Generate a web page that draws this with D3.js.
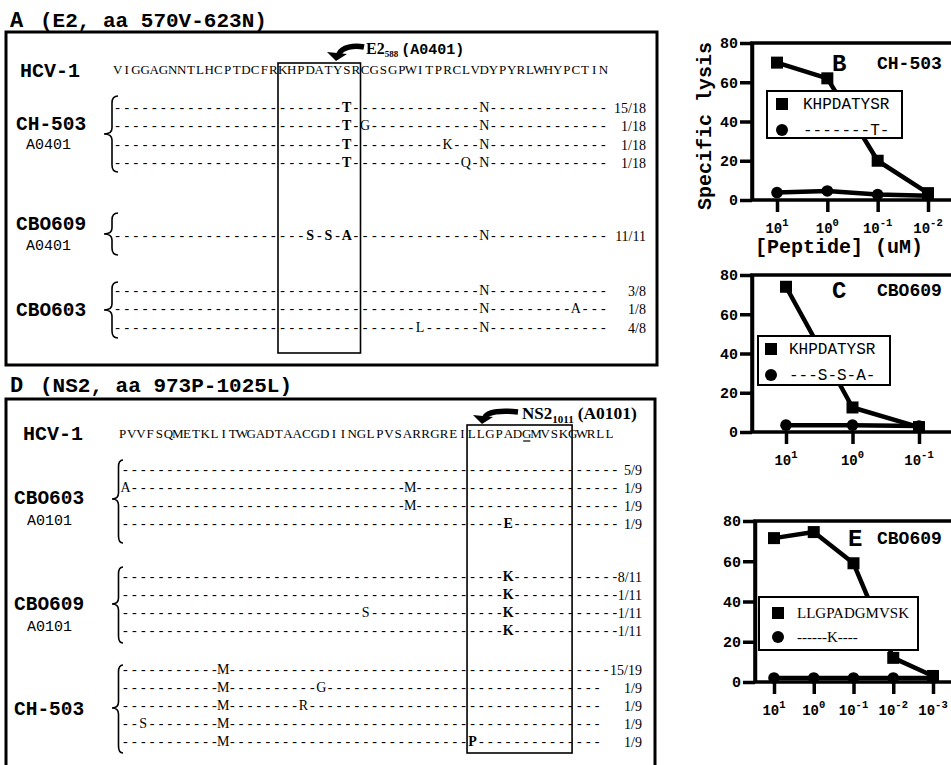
<!DOCTYPE html>
<html><head><meta charset="utf-8">
<script src="https://cdn.jsdelivr.net/npm/d3@7"></script>
<style>body{margin:0;background:#fff}svg{display:block}</style>
</head><body><svg id="c" width="951" height="765"></svg>
<script>
// ---------------- DATA ----------------
const seqA = "VIGGAGNNTLHCPTDCFRKHPDATYSRCGSGPWITPRCLVDYPYRLWHYPCTIN";
const epitopeA = [18, 27];
const groupsA = ["CH-503", "CBO609", "CBO603"];
const hlaA = ["A0401", "A0401", ""];
// each row: group index, substitutions [position, residue], clone fraction
const rowGroupA = [0, 0, 0, 0, 1, 2, 2, 2];
const rowMutA = [
  [[25, "T"], [40, "N"]],
  [[25, "T"], [27, "G"], [40, "N"]],
  [[25, "T"], [36, "K"], [40, "N"]],
  [[25, "T"], [38, "Q"], [40, "N"]],
  [[21, "S"], [23, "S"], [25, "A"], [40, "N"]],
  [[40, "N"]],
  [[40, "N"], [50, "A"]],
  [[33, "L"], [40, "N"]]
];
const rowFracA = ["15/18", "1/18", "1/18", "1/18", "11/11", "3/8", "1/8", "4/8"];

const seqD = "PVVFSQMETKLITWGADTAACGDIINGLPVSARRGREILLGPADGMVSKGWRLL";
const epitopeD = [38, 49];
const groupsD = ["CBO603", "CBO609", "CH-503"];
const hlaD = ["A0101", "A0101", ""];
const rowGroupD = [0, 0, 0, 0, 1, 1, 1, 1, 2, 2, 2, 2, 2];
const rowMutD = [
  [],
  [[0, "A"], [32, "M"]],
  [[32, "M"]],
  [[43, "E"]],
  [[43, "K"]],
  [[43, "K"]],
  [[27, "S"], [43, "K"]],
  [[43, "K"]],
  [[11, "M"]],
  [[11, "M"], [22, "G"]],
  [[11, "M"], [20, "R"]],
  [[2, "S"], [11, "M"]],
  [[11, "M"], [39, "P"]]
];
const rowLenD = [56, 56, 56, 56, 56, 56, 56, 56, 55, 54, 54, 54, 54];
const rowFracD = ["5/9", "1/9", "1/9", "1/9", "8/11", "1/11", "1/11", "1/11", "15/19", "1/9", "1/9", "1/9", "1/9"];

// dose-response panels
const yTicks = [0, 20, 40, 60, 80];
const doseB = [10, 1, 0.1, 0.01];
const lysisB_wt = [70, 62, 20, 3.5];
const lysisB_var = [3.8, 4.6, 2.8, 2.2];
const legendB = ["KHPDATYSR", "-------T-"];
const doseC = [10, 1, 0.1];
const lysisC_wt = [74, 12.5, 2.5];
const lysisC_var = [3.5, 3.5, 3];
const legendC = ["KHPDATYSR", "---S-S-A-"];
const doseE = [10, 1, 0.1, 0.01, 0.001];
const lysisE_wt = [71.5, 74.5, 59, 12, 3];
const lysisE_var = [2, 2, 2, 2, 2];
const legendE = ["LLGPADGMVSK", "------K----"];

// ---------------- LAYOUT ----------------
const MONO = "'Liberation Mono','Courier New',monospace";
const SERIF = "'Liberation Serif','Times New Roman',serif";
const svg = d3.select("#c");

function txt(x, y, s, font, size, weight, anchor) {
  return svg.append("text").attr("x", x).attr("y", y).text(s)
    .attr("font-family", font).attr("font-size", size)
    .attr("font-weight", weight || "normal").attr("text-anchor", anchor || "start");
}
function brace(x0, x1, y0, y1, ym) {
  const xm = (x0 + x1) / 2 + 1;
  const p = `M${x1},${y0} Q${xm},${y0} ${xm},${y0 + 7} L${xm},${ym - 6} Q${xm},${ym} ${x0},${ym} Q${xm},${ym} ${xm},${ym + 6} L${xm},${y1 - 7} Q${xm},${y1} ${x1},${y1}`;
  svg.append("path").attr("d", p).attr("fill", "none").attr("stroke", "#000").attr("stroke-width", 1.6);
}
function arrow(tipX, tipY, tailX, tailY) {
  svg.append("path")
    .attr("d", `M${tailX},${tailY} C${tipX + 18},${tailY - 2} ${tipX + 6},${tailY} ${tipX + 3},${tipY - 7}`)
    .attr("fill", "none").attr("stroke", "#000").attr("stroke-width", 5.5);
  svg.append("path")
    .attr("d", `M${tipX - 9},${tipY - 9} L${tipX + 11},${tipY - 7} L${tipX},${tipY} Z`)
    .attr("fill", "#000");
}

// ----- Panel A -----
txt(10, 27, "A", MONO, 22, "bold");
txt(40, 27, "(E2, aa 570V-623N)", MONO, 21, "bold");
svg.append("rect").attr("x", 6).attr("y", 32).attr("width", 651).attr("height", 333)
  .attr("fill", "none").attr("stroke", "#000").attr("stroke-width", 3);

const xA = d3.scaleLinear().domain([0, seqA.length]).range([113, 608]);
const slotA = d3.scaleLinear().domain([0, 1]).range([108, 126.3]);
const rowSlotA = [0, 1, 2, 3, 7, 10, 11, 12];

svg.append("rect").attr("x", xA(epitopeA[0])).attr("y", 63)
  .attr("width", xA(epitopeA[1]) - xA(epitopeA[0])).attr("height", 290)
  .attr("fill", "none").attr("stroke", "#000").attr("stroke-width", 1.6);

txt(20, 77, "HCV-1", MONO, 20, "bold");
svg.append("g").selectAll("text").data(seqA.split("")).join("text")
  .attr("x", (d, i) => xA(i + 0.5)).attr("y", 74).attr("text-anchor", "middle")
  .attr("font-family", SERIF).attr("font-size", 13).text(d => d);

arrow(336, 61, 364, 47);
const e2 = svg.append("text").attr("x", 366).attr("y", 54).attr("font-weight", "bold");
e2.append("tspan").attr("font-family", SERIF).attr("font-size", 16).text("E2");
e2.append("tspan").attr("font-family", SERIF).attr("font-size", 9).attr("dy", 3).text("588");
e2.append("tspan").attr("font-family", MONO).attr("font-size", 15).attr("dy", -3).attr("dx", 3).text("(A0401)");

function drawRows(rowsMut, rowLen, xs, ys, boxX0, boxX1) {
  rowsMut.forEach((muts, r) => {
    const m = new Map(muts);
    const chars = d3.range(rowLen[r]).map(i => m.get(i) || "-");
    svg.append("g").selectAll("text").data(chars).join("text")
      .attr("x", (d, i) => xs(i + 0.5)).attr("y", ys[r] + 4)
      .attr("text-anchor", "middle").attr("font-family", SERIF)
      .attr("font-size", 14)
      .attr("font-weight", (d, i) => (d !== "-" && xs(i + 0.5) > boxX0 && xs(i + 0.5) < boxX1) ? "bold" : "normal")
      .text(d => d);
  });
}
const rowYA = rowSlotA.map(s => slotA(s));
drawRows(rowMutA, rowMutA.map(() => seqA.length), xA, rowYA, xA(epitopeA[0]), xA(epitopeA[1]));
rowFracA.forEach((f, r) => txt(646, rowYA[r] + 5, f, SERIF, 14, "normal", "end"));

const labA = [[123, 144], [223, 245], [309, null]];
const braceA = [[96, 172, 134], [213, 255, 234], [282, 338, 310]];
groupsA.forEach((g, k) => {
  txt(16, labA[k][0] + 7, g, MONO, 19.5, "bold");
  if (hlaA[k]) txt(26, labA[k][1] + 5, hlaA[k], MONO, 15, "normal");
  brace(104, 118, braceA[k][0], braceA[k][1], braceA[k][2]);
});

// ----- Panel D -----
txt(10, 392, "D", MONO, 22, "bold");
txt(40, 392, "(NS2, aa 973P-1025L)", MONO, 21, "bold");
svg.append("rect").attr("x", 6).attr("y", 399).attr("width", 649).attr("height", 400)
  .attr("fill", "none").attr("stroke", "#000").attr("stroke-width", 3);

const xDs = d3.scaleLinear().domain([0, seqD.length]).range([118, 614]);
const xDr = d3.scaleLinear().domain([0, 56]).range([121, 619.4]);
const slotD = d3.scaleLinear().domain([0, 1]).range([470, 487.9]);
const rowSlotD = [0, 1, 2, 3, 6, 7, 8, 9, 11.2, 12.2, 13.2, 14.2, 15.2];
const rowYD = rowSlotD.map(s => slotD(s));

svg.append("rect").attr("x", xDs(epitopeD[0])).attr("y", 425)
  .attr("width", xDs(epitopeD[1]) - xDs(epitopeD[0]) + 4).attr("height", 328)
  .attr("fill", "none").attr("stroke", "#000").attr("stroke-width", 1.6);

txt(23, 440, "HCV-1", MONO, 20, "bold");
svg.append("g").selectAll("text").data(seqD.split("")).join("text")
  .attr("x", (d, i) => xDs(i + 0.5)).attr("y", 438).attr("text-anchor", "middle")
  .attr("font-family", SERIF).attr("font-size", 13).text(d => d);
svg.append("line").attr("x1", xDs(44) + 1).attr("x2", xDs(45) - 1).attr("y1", 441).attr("y2", 441)
  .attr("stroke", "#000").attr("stroke-width", 1.2);

arrow(482, 424, 518, 412);
const ns2 = svg.append("text").attr("x", 522).attr("y", 419).attr("font-weight", "bold").attr("font-family", SERIF);
ns2.append("tspan").attr("font-size", 17).text("NS2");
ns2.append("tspan").attr("font-size", 11).attr("dy", 4).text("1011");
ns2.append("tspan").attr("font-size", 17.5).attr("dy", -4).attr("dx", 4).text("(A0101)");

drawRows(rowMutD, rowLenD, xDr, rowYD, xDs(epitopeD[0]), xDs(epitopeD[1]) + 4);
rowFracD.forEach((f, r) => txt(642, rowYD[r] + 5, f, SERIF, 14, "normal", "end"));

const labD = [[497, 520], [603, 626], [708, null]];
const braceD = [[460, 543, 499], [567, 643, 604], [665, 753, 708]];
groupsD.forEach((g, k) => {
  txt(14, labD[k][0] + 7, g, MONO, 19.5, "bold");
  if (hlaD[k]) txt(27, labD[k][1] + 5, hlaD[k], MONO, 15, "normal");
  brace(112, 123, braceD[k][0], braceD[k][1], braceD[k][2]);
});

// ----- Dose response panels -----
function dosePanel(cfg) {
  const y = d3.scaleLinear().domain([0, 80]).range([cfg.y0, cfg.y80]);
  const x = d3.scaleLog().domain([10, cfg.dose[cfg.dose.length - 1]]).range([cfg.x10, cfg.xEnd]);
  const g = svg.append("g");
  g.append("rect").attr("x", cfg.ax).attr("y", cfg.y80).attr("width", 320).attr("height", cfg.y0 - cfg.y80)
    .attr("fill", "none").attr("stroke", "#000").attr("stroke-width", 3.5);
  const ya = g.append("g").attr("transform", `translate(${cfg.ax},0)`)
    .call(d3.axisLeft(y).tickValues(yTicks).tickSize(12).tickSizeOuter(0).tickPadding(2));
  ya.select(".domain").attr("stroke-width", 3.5);
  ya.selectAll(".tick line").attr("stroke-width", 3.5);
  ya.selectAll(".tick text").attr("font-family", MONO).attr("font-weight", "bold").attr("font-size", 15);
  const xa = g.append("g").attr("transform", `translate(0,${cfg.y0})`)
    .call(d3.axisBottom(x).tickValues(cfg.dose).tickSize(12).tickSizeOuter(0).tickFormat(""));
  xa.select(".domain").remove();
  xa.selectAll(".tick line").attr("stroke-width", 3.5);
  cfg.dose.forEach(d => {
    const t = g.append("text").attr("x", x(d)).attr("y", cfg.y0 + 33).attr("text-anchor", "middle")
      .attr("font-family", MONO).attr("font-weight", "bold");
    t.append("tspan").attr("font-size", 14).text("10");
    t.append("tspan").attr("font-size", 10.5).attr("dy", -7).text(String(Math.round(Math.log10(d))));
  });
  const line = d3.line().x((d, i) => x(cfg.dose[i])).y(d => y(d));
  [cfg.var, cfg.wt].forEach(s => g.append("path").attr("d", line(s)).attr("fill", "none")
    .attr("stroke", "#000").attr("stroke-width", 4.5).attr("stroke-linejoin", "round"));
  g.selectAll(".cv").data(cfg.var).join("circle").attr("cx", (d, i) => x(cfg.dose[i])).attr("cy", d => y(d)).attr("r", 5.8);
  g.selectAll(".sq").data(cfg.wt).join("rect").attr("x", (d, i) => x(cfg.dose[i]) - 6).attr("y", d => y(d) - 6)
    .attr("width", 12).attr("height", 12);
  const L = cfg.leg;
  g.append("rect").attr("x", L.x).attr("y", L.y).attr("width", L.w).attr("height", L.h)
    .attr("fill", "#fff").attr("stroke", "#000").attr("stroke-width", 2);
  g.append("rect").attr("x", L.mx - 6).attr("y", L.y1 - 6).attr("width", 12).attr("height", 12);
  g.append("circle").attr("cx", L.mx).attr("cy", L.y2).attr("r", 6);
  g.append("text").attr("x", L.tx).attr("y", L.y1 + 5).attr("font-family", L.font).attr("font-size", L.fs).text(cfg.labels[0]);
  g.append("text").attr("x", L.tx).attr("y", L.y2 + 5).attr("font-family", L.font).attr("font-size", L.fs).text(cfg.labels[1]);
  g.append("text").attr("x", cfg.lx).attr("y", cfg.ly + 8).attr("font-family", MONO).attr("font-weight", "bold")
    .attr("font-size", 24).text(cfg.letter);
  g.append("text").attr("x", 877).attr("y", cfg.ly + 6).attr("font-family", MONO).attr("font-weight", "bold")
    .attr("font-size", 18).text(cfg.name);
}

dosePanel({ax: 752, y0: 200, y80: 43, x10: 777, xEnd: 928, dose: doseB, wt: lysisB_wt, var: lysisB_var,
  labels: legendB, letter: "B", name: "CH-503", lx: 832, ly: 63,
  leg: {x: 767, y: 91, w: 135, h: 47, mx: 782, tx: 803, y1: 104, y2: 130, font: MONO, fs: 16}});
dosePanel({ax: 752, y0: 432, y80: 275, x10: 786, xEnd: 919, dose: doseC, wt: lysisC_wt, var: lysisC_var,
  labels: legendC, letter: "C", name: "CBO609", lx: 832, ly: 290,
  leg: {x: 758, y: 336, w: 132, h: 49, mx: 771, tx: 789, y1: 349, y2: 375, font: MONO, fs: 16}});
dosePanel({ax: 755, y0: 682, y80: 521, x10: 774, xEnd: 933, dose: doseE, wt: lysisE_wt, var: lysisE_var,
  labels: legendE, letter: "E", name: "CBO609", lx: 848, ly: 538,
  leg: {x: 759, y: 597, w: 159, h: 53, mx: 778, tx: 797, y1: 613, y2: 637, font: SERIF, fs: 15}});

svg.append("text").attr("transform", "translate(711,126) rotate(-90)").attr("text-anchor", "middle")
  .attr("font-family", MONO).attr("font-weight", "bold").attr("font-size", 20).text("Specific lysis");
svg.append("text").attr("x", 839).attr("y", 253).attr("text-anchor", "middle")
  .attr("font-family", MONO).attr("font-weight", "bold").attr("font-size", 20).text("[Peptide] (uM)");
</script></body></html>
